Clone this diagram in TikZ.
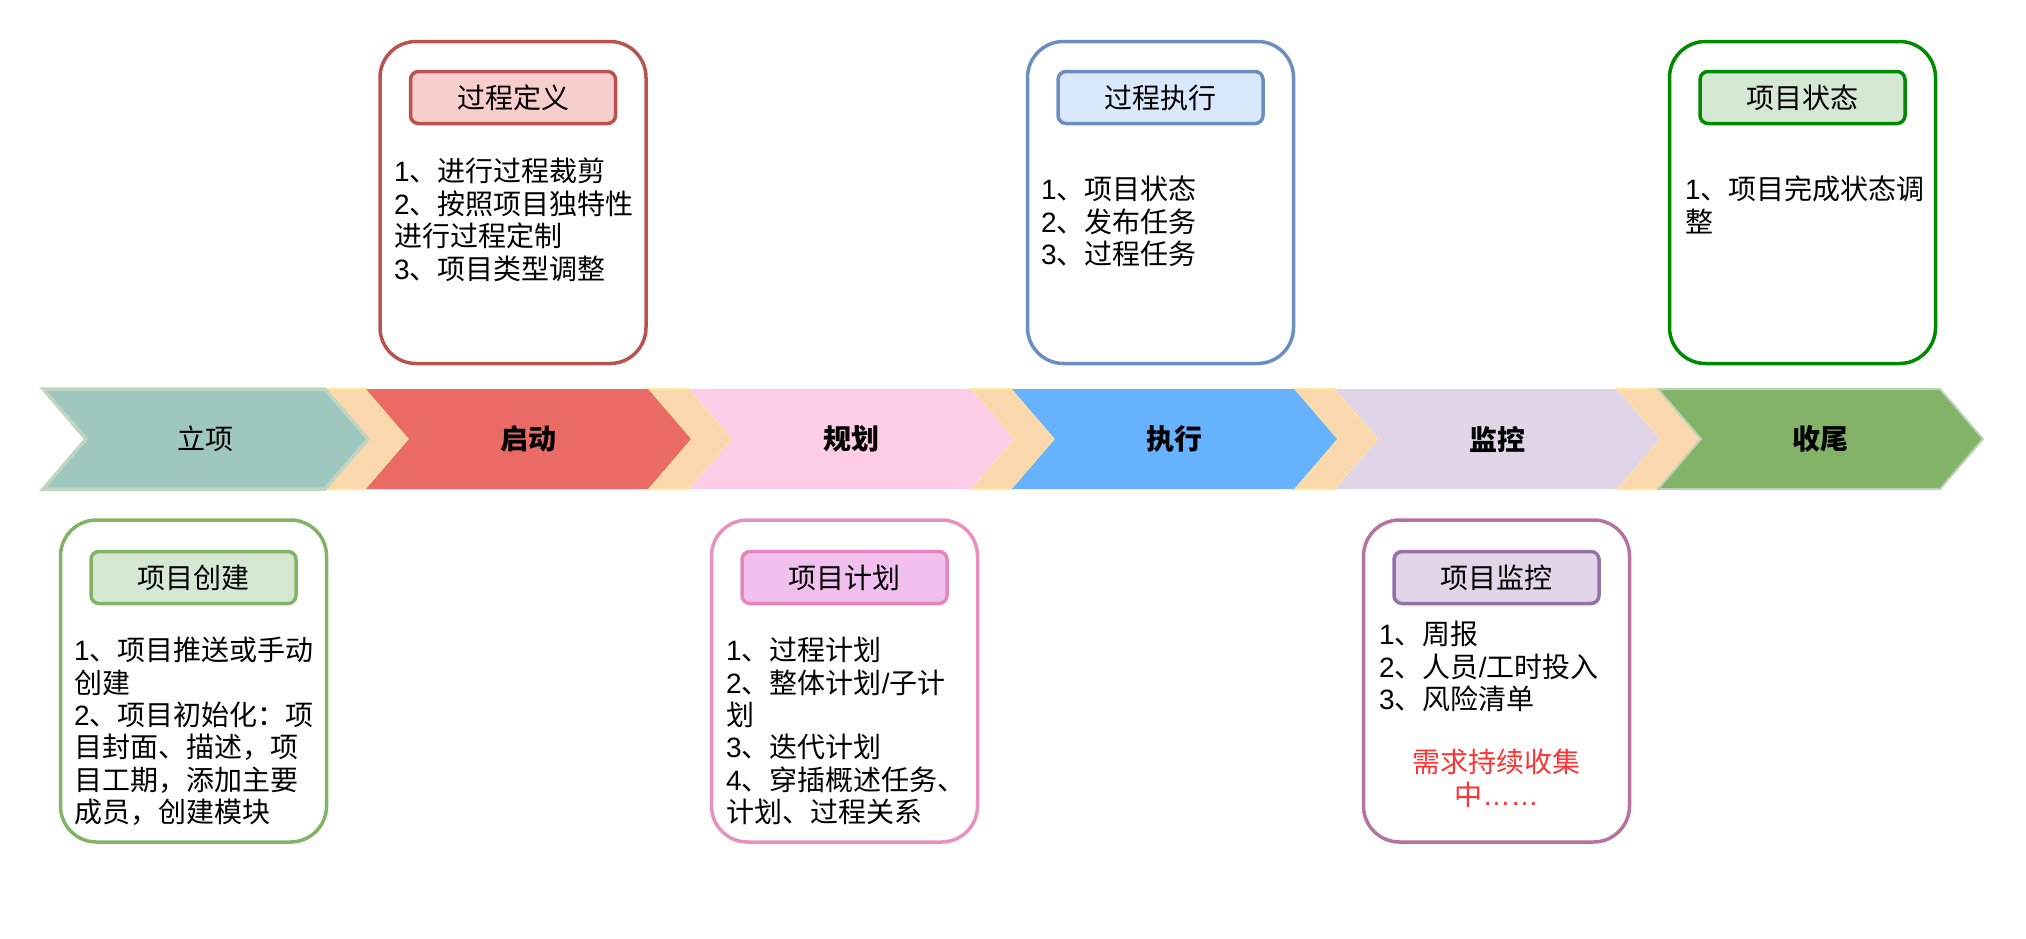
\documentclass[tikz,border=0pt]{standalone}
\usepackage{fontspec}
\setmainfont{Noto Sans CJK SC}
\newfontfamily\latinf{Liberation Sans}
\newcommand{\dg}[1]{{\latinf #1}}
\definecolor{cTeal}{HTML}{9DC7BF}
\definecolor{cTealB}{HTML}{C2D5C0}
\definecolor{cRedF}{HTML}{EA6B66}
\definecolor{cPinkF}{HTML}{FDCCE6}
\definecolor{cBlueF}{HTML}{66B2FF}
\definecolor{cPurpF}{HTML}{E1D5E7}
\definecolor{cGreenF}{HTML}{82B366}
\definecolor{cGreenB}{HTML}{BCD3B8}
\definecolor{cOrange}{HTML}{FAD7AC}
\definecolor{cOrangeB}{HTML}{FFE69E}
\definecolor{bRed}{HTML}{B85450}
\definecolor{fRed}{HTML}{F8CECC}
\definecolor{bBlue}{HTML}{6C8EBF}
\definecolor{fBlue}{HTML}{DAE8FC}
\definecolor{bDGreen}{HTML}{008A00}
\definecolor{fGreen}{HTML}{D5E8D4}
\definecolor{bGreen}{HTML}{82B366}
\definecolor{bPink}{HTML}{E891C1}
\definecolor{tPink}{HTML}{E485BD}
\definecolor{fPink}{HTML}{F2C0EE}
\definecolor{bPurp}{HTML}{B5739D}
\definecolor{tPurp}{HTML}{9673A6}
\definecolor{fPurp}{HTML}{E1D5E7}
\definecolor{cRedTxt}{HTML}{FF3333}
\begin{document}
\begin{tikzpicture}[x=1pt,y=-1pt,
  connchev/.style={fill=cOrange, draw=cOrangeB, line width=2pt, line join=miter},
  phasechev/.style={line join=miter},
  phaselab/.style={font=\fontsize{28}{32}\selectfont, inner sep=0pt},
  phasebold/.style={phaselab, font=\fontsize{28}{32}\selectfont\bfseries},
  outerbox/.style={draw, fill=white, line width=3.5pt, rounded corners=36pt, minimum width=266pt, minimum height=322pt, inner sep=0pt},
  titlebox/.style={draw, line width=3.5pt, rounded corners=8pt, minimum width=205pt, minimum height=52pt, inner sep=0pt, font=\fontsize{28}{32}\selectfont},
  bodytxt/.style={anchor=north west, align=left, inner sep=0pt, font=\fontsize{28}{32.4}\selectfont}
]
\path[use as bounding box] (0,0) rectangle (2026,938);

% connector chevrons (orange)
\path[connchev] (325,389) -- (366,389) -- (409,439) -- (366,489) -- (325,489) -- (368,439) -- cycle;
\path[connchev] (648,389) -- (689,389) -- (732,439) -- (689,489) -- (648,489) -- (691,439) -- cycle;
\path[connchev] (971,389) -- (1012,389) -- (1055,439) -- (1012,489) -- (971,489) -- (1014,439) -- cycle;
\path[connchev] (1294,389) -- (1335,389) -- (1378,439) -- (1335,489) -- (1294,489) -- (1337,439) -- cycle;
\path[connchev] (1617,389) -- (1658,389) -- (1701,439) -- (1658,489) -- (1617,489) -- (1660,439) -- cycle;

% phase chevrons
\path[phasechev, fill=cTeal, draw=cTealB, line width=3.5pt] (43,389) -- (325,389) -- (368,439) -- (325,489) -- (43,489) -- (86,439) -- cycle;
\path[phasechev, fill=cRedF] (366,389) -- (648,389) -- (691,439) -- (648,489) -- (366,489) -- (409,439) -- cycle;
\path[phasechev, fill=cPinkF] (689,389) -- (971,389) -- (1014,439) -- (971,489) -- (689,489) -- (732,439) -- cycle;
\path[phasechev, fill=cBlueF] (1012,389) -- (1294,389) -- (1337,439) -- (1294,489) -- (1012,489) -- (1055,439) -- cycle;
\path[phasechev, fill=cPurpF] (1335,389) -- (1617,389) -- (1660,439) -- (1617,489) -- (1335,489) -- (1378,439) -- cycle;
\path[phasechev, fill=cGreenF, draw=cGreenB, line width=2pt] (1658,389) -- (1940,389) -- (1983,439) -- (1940,489) -- (1658,489) -- (1701,439) -- cycle;

\node[phaselab] (p1) at (205,439) {立项};
\node[phasebold] (p2) at (528,439) {启动};
\node[phasebold] (p3) at (851,439) {规划};
\node[phasebold] (p4) at (1174,439) {执行};
\node[phasebold] (p5) at (1497,439) {监控};
\node[phasebold] (p6) at (1820,439) {收尾};

% top boxes
\node[outerbox, draw=bRed] (defbox) at (513,202.5) {};
\node[titlebox, draw=bRed, fill=fRed] (deft) at (513,97.5) {过程定义};
\node[bodytxt] (defb) at (394,158) {\dg{1}、进行过程裁剪\\\dg{2}、按照项目独特性\\进行过程定制\\\dg{3}、项目类型调整};

\node[outerbox, draw=bBlue] (exebox) at (1160.5,202.5) {};
\node[titlebox, draw=bBlue, fill=fBlue] (exet) at (1160.5,97.5) {过程执行};
\node[bodytxt] (exeb) at (1041,176) {\dg{1}、项目状态\\\dg{2}、发布任务\\\dg{3}、过程任务};

\node[outerbox, draw=bDGreen] (stabox) at (1802.5,202.5) {};
\node[titlebox, draw=bDGreen, fill=fGreen] (stat) at (1802.5,97.5) {项目状态};
\node[bodytxt] (stab) at (1685,176) {\dg{1}、项目完成状态调\\整};

% bottom boxes
\node[outerbox, draw=bGreen] (crebox) at (193.5,681) {};
\node[titlebox, draw=bGreen, fill=fGreen] (cret) at (193.5,577.5) {项目创建};
\node[bodytxt] (creb) at (74,637) {\dg{1}、项目推送或手动\\创建\\\dg{2}、项目初始化：项\\目封面、描述，项\\目工期，添加主要\\成员，创建模块};

\node[outerbox, draw=bPink] (plabox) at (844.5,681) {};
\node[titlebox, draw=tPink, fill=fPink] (plat) at (844.5,577.5) {项目计划};
\node[bodytxt] (plab) at (726,637) {\dg{1}、过程计划\\\dg{2}、整体计划\dg{/}子计\\划\\\dg{3}、迭代计划\\\dg{4}、穿插概述任务、\\计划、过程关系};

\node[outerbox, draw=bPurp] (monbox) at (1496.5,681) {};
\node[titlebox, draw=tPurp, fill=fPurp] (mont) at (1496.5,577.5) {项目监控};
\node[bodytxt] (monb) at (1379,621) {\dg{1}、周报\\\dg{2}、人员\dg{/}工时投入\\\dg{3}、风险清单};
\node[bodytxt, anchor=north, align=center, text=cRedTxt] (monr) at (1496.5,749) {需求持续收集\\中{\latinf ……}};
\end{tikzpicture}
\end{document}
